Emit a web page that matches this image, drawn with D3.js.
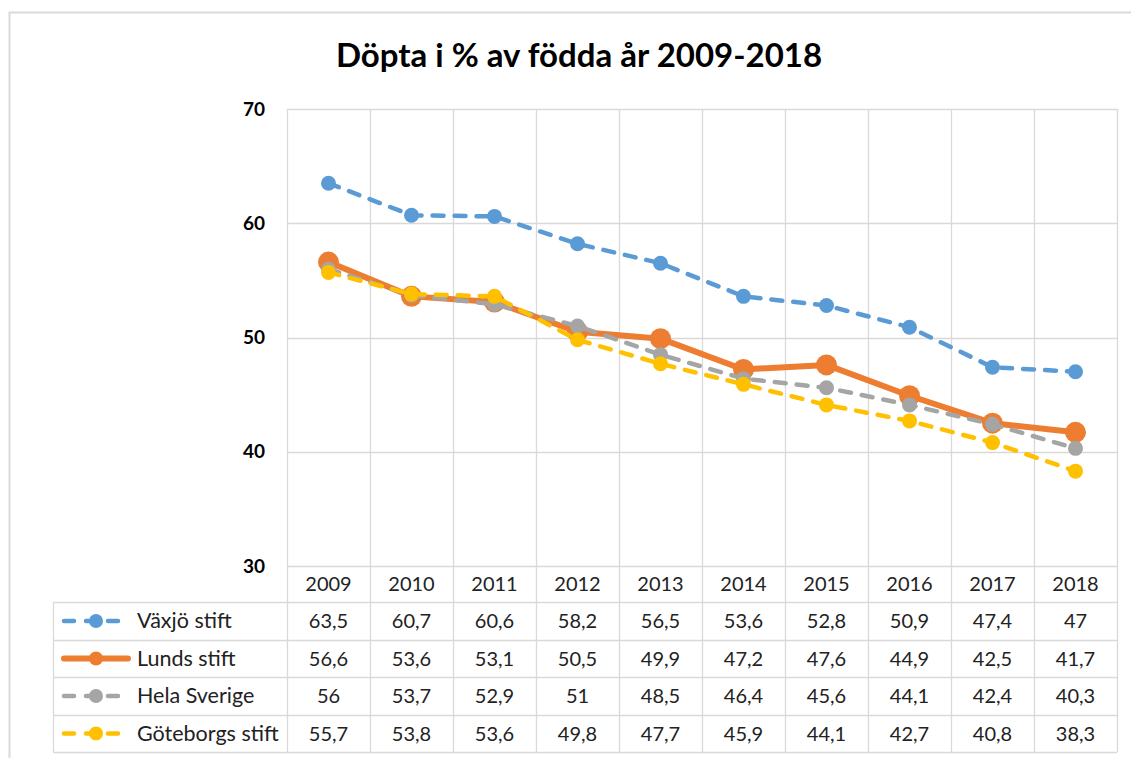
<!DOCTYPE html>
<html><head><meta charset="utf-8">
<script src="https://cdn.jsdelivr.net/npm/d3@7"></script>
<style>
html,body{margin:0;padding:0;background:#fff;}
svg{display:block;font-family:Lato,"Open Sans",sans-serif;}
</style></head>
<body><svg id="c" width="1131" height="758"></svg>
<script>
const years = ["2009","2010","2011","2012","2013","2014","2015","2016","2017","2018"];
const vaxjo = [63.5,60.7,60.6,58.2,56.5,53.6,52.8,50.9,47.4,47];
const lunds = [56.6,53.6,53.1,50.5,49.9,47.2,47.6,44.9,42.5,41.7];
const hela = [56,53.7,52.9,51,48.5,46.4,45.6,44.1,42.4,40.3];
const goteborg = [55.7,53.8,53.6,49.8,47.7,45.9,44.1,42.7,40.8,38.3];
const seriesNames = ["Växjö stift","Lunds stift","Hela Sverige","Göteborgs stift"];
const yTicks = [30,40,50,60,70];
const title = "Döpta i % av födda år 2009-2018";

const series = [
  {name: seriesNames[0], values: vaxjo, color:"#5B9BD5", width:4.5, dash:"11,11", r:7.5},
  {name: seriesNames[1], values: lunds, color:"#ED7D31", width:6, dash:null, r:10.5},
  {name: seriesNames[2], values: hela, color:"#A5A5A5", width:4.5, dash:"11,11", r:7.5},
  {name: seriesNames[3], values: goteborg, color:"#FFC000", width:4.5, dash:"11,11", r:7.5}
];

const svg = d3.select("#c");
const L = 287, R = 1117, T = 109, B = 566;
const x = d3.scaleBand().domain(years).range([L, R]);
const y = d3.scaleLinear().domain([30,70]).range([B, T]);
const grid = "#d9d9d9";

// outer border
svg.append("path").attr("d","M9.5,758 V12.5 H1131").attr("fill","none").attr("stroke",grid).attr("stroke-width",2);

// title
svg.append("text").attr("x",579).attr("y",67).attr("text-anchor","middle")
  .attr("font-size",33).attr("font-weight","bold").attr("fill","#000").text(title);

// horizontal gridlines
svg.append("g").selectAll("line").data(yTicks).join("line")
  .attr("x1",L).attr("x2",R).attr("y1",d=>Math.round(y(d))+0.5).attr("y2",d=>Math.round(y(d))+0.5)
  .attr("stroke",grid).attr("stroke-width",1.3);

// y labels
const yAxis = d3.axisLeft(y).tickValues(yTicks).tickSize(0).tickPadding(0).tickFormat(d3.format("d"));
const ya = svg.append("g").attr("transform",`translate(${265},0)`).call(yAxis);
ya.select(".domain").remove();
ya.selectAll("text").attr("font-size",19).attr("font-weight","bold").attr("fill","#000")
  .attr("font-family","Lato,'Open Sans',sans-serif");

// table geometry
const rowTops = [566, 602, 640, 677, 715, 752];
const tableLeft = 53;

// vertical lines (column boundaries)
const bounds = years.map(d=>x(d)).concat([R]);
svg.append("g").selectAll("line").data(bounds).join("line")
  .attr("x1",d=>Math.round(d)+0.5).attr("x2",d=>Math.round(d)+0.5)
  .attr("y1",T).attr("y2",rowTops[5])
  .attr("stroke",grid).attr("stroke-width",1.3);
svg.append("line").attr("x1",tableLeft+0.5).attr("x2",tableLeft+0.5)
  .attr("y1",rowTops[1]).attr("y2",rowTops[5]).attr("stroke",grid).attr("stroke-width",1.3);
// horizontal table lines
svg.append("g").selectAll("line").data(rowTops.slice(1)).join("line")
  .attr("x1",tableLeft).attr("x2",R).attr("y1",d=>d+0.5).attr("y2",d=>d+0.5)
  .attr("stroke",grid).attr("stroke-width",1.3);

// year header
svg.append("g").selectAll("text").data(years).join("text")
  .attr("x",d=>x(d)+x.bandwidth()/2).attr("y",(rowTops[0]+rowTops[1])/2+7)
  .attr("text-anchor","middle").attr("font-size",20).attr("fill","#222").text(d=>d);

// table rows
const fmt = v => String(v).replace(".", ",");
series.forEach((s,i)=>{
  const cy = (rowTops[i+1]+rowTops[i+2])/2;
  const g = svg.append("g");
  g.selectAll("text").data(s.values).join("text")
    .attr("x",(d,j)=>x(years[j])+x.bandwidth()/2).attr("y",cy+7)
    .attr("text-anchor","middle").attr("font-size",20).attr("fill","#222").text(fmt);
  // legend key
  g.append("line").attr("x1",64).attr("x2",128).attr("y1",cy).attr("y2",cy)
    .attr("stroke",s.color).attr("stroke-width",s.dash?4.5:6).attr("stroke-linecap","round")
    .attr("stroke-dasharray",s.dash?"10,12":null);
  g.append("circle").attr("cx",96).attr("cy",cy).attr("r",7).attr("fill",s.color);
  g.append("text").attr("x",137).attr("y",cy+7).attr("font-size",21.5).attr("fill","#222").text(s.name);
});

// lines
const line = d3.line().x((d,j)=>x(years[j])+x.bandwidth()/2).y(d=>y(d));
series.forEach(s=>{
  svg.append("path").datum(s.values).attr("d",line).attr("fill","none")
    .attr("stroke",s.color).attr("stroke-width",s.width).attr("stroke-linecap","round")
    .attr("stroke-linejoin","round").attr("stroke-dasharray",s.dash);
  svg.append("g").selectAll("circle").data(s.values).join("circle")
    .attr("cx",(d,j)=>x(years[j])+x.bandwidth()/2).attr("cy",d=>y(d)).attr("r",s.r).attr("fill",s.color);
});
</script></body></html>
